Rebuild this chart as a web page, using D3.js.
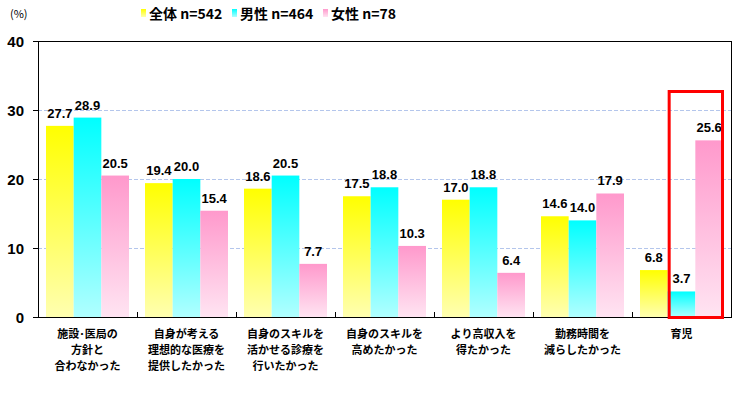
<!DOCTYPE html>
<html>
<head>
<meta charset="utf-8">
<script src="https://cdn.jsdelivr.net/npm/d3@7"></script>
<style>
  body { margin: 0; background: #fff; }
  svg { display: block; }
</style>
</head>
<body>
<svg id="chart" width="739" height="395"></svg>
<script>
// data
const categories = [
  ['施設･医局の', '方針と', '合わなかった'],
  ['自身が考える', '理想的な医療を', '提供したかった'],
  ['自身のスキルを', '活かせる診療を', '行いたかった'],
  ['自身のスキルを', '高めたかった'],
  ['より高収入を', '得たかった'],
  ['勤務時間を', '減らしたかった'],
  ['育児']
];
const seriesNames = ['全体 n=542', '男性 n=464', '女性 n=78'];
const allValues = [27.7, 19.4, 18.6, 17.5, 17.0, 14.6, 6.8];
const maleValues = [28.9, 20.0, 20.5, 18.8, 18.8, 14.0, 3.7];
const femaleValues = [20.5, 15.4, 7.7, 10.3, 6.4, 17.9, 25.6];
const yTicks = [0, 10, 20, 30, 40];
const highlightIndex = 6;

const series = [allValues, maleValues, femaleValues];
const gradStops = [
  ['#ffff00', '#ffffb0'],
  ['#00ffff', '#b0ffff'],
  ['#ff99cc', '#ffe4f2']
];

const svg = d3.select('#chart');
const M = { left: 38, top: 41, right: 731, bottom: 317 };
const font = '"Liberation Sans", Arial, sans-serif';
const jpFont = '"Noto Sans CJK JP", sans-serif';

const defs = svg.append('defs');
gradStops.forEach((s, i) => {
  const g = defs.append('linearGradient').attr('id', 'g' + i)
    .attr('x1', 0).attr('y1', 0).attr('x2', 0).attr('y2', 1);
  g.append('stop').attr('offset', '0%').attr('stop-color', s[0]);
  g.append('stop').attr('offset', '100%').attr('stop-color', s[1]);
});

const x = d3.scaleBand().domain(d3.range(categories.length))
  .range([M.left, M.right]).paddingInner(0).paddingOuter(0);
const inner = 8;
const xs = d3.scaleBand().domain(d3.range(series.length))
  .range([inner, x.bandwidth() - inner]);
const y = d3.scaleLinear().domain([0, 40]).range([M.bottom, M.top]);

// dashed gridlines
svg.append('g').selectAll('line').data(yTicks.filter(t => t > 0 && t < 40)).join('line')
  .attr('x1', M.left).attr('x2', M.right)
  .attr('y1', d => y(d) + 0.5).attr('y2', d => y(d) + 0.5)
  .style('stroke', '#b4c6ec').style('stroke-dasharray', '4,2').style('stroke-width', 1);

// bars
series.forEach((vals, si) => {
  svg.append('g').selectAll('rect').data(vals).join('rect')
    .attr('x', (d, i) => x(i) + xs(si))
    .attr('y', d => y(d))
    .attr('width', xs.bandwidth())
    .attr('height', d => y(0) - y(d))
    .style('fill', `url(#g${si})`);
});

// frame
svg.append('rect')
  .attr('x', M.left + 0.5).attr('y', M.top + 0.5)
  .attr('width', M.right - M.left).attr('height', M.bottom - M.top)
  .style('fill', 'none').style('stroke', '#000').style('stroke-width', 1);

// y axis ticks + labels
const yAxis = svg.append('g');
yTicks.forEach(t => {
  yAxis.append('line')
    .attr('x1', M.left - 5).attr('x2', M.left)
    .attr('y1', y(t) + 0.5).attr('y2', y(t) + 0.5)
    .style('stroke', '#000');
  yAxis.append('text')
    .attr('x', 24).attr('y', y(t))
    .attr('text-anchor', 'end').attr('dominant-baseline', 'central')
    .style('font-family', font).style('font-size', '15px').style('font-weight', 700)
    .text(t);
});

// x ticks between categories
svg.append('g').selectAll('line').data(d3.range(1, categories.length)).join('line')
  .attr('x1', d => x(d) + 0.5).attr('x2', d => x(d) + 0.5)
  .attr('y1', M.bottom).attr('y2', M.bottom - 5)
  .style('stroke', '#000');

// value labels
series.forEach((vals, si) => {
  svg.append('g').selectAll('text').data(vals).join('text')
    .attr('x', (d, i) => x(i) + xs(si) + xs.bandwidth() / 2)
    .attr('y', d => y(d) - 8)
    .attr('text-anchor', 'middle')
    .style('font-family', font).style('font-size', '13px').style('font-weight', 700)
    .text(d => d.toFixed(1));
});

// category labels, one text per line
categories.forEach((lines, i) => {
  lines.forEach((l, j) => {
    svg.append('text')
      .attr('x', x(i) + x.bandwidth() / 2).attr('y', 333 + j * 16)
      .attr('text-anchor', 'middle').attr('dominant-baseline', 'central')
      .style('font-family', jpFont).style('font-size', '11px').style('font-weight', 700)
      .text(l);
  });
});

// highlight box
svg.append('rect')
  .attr('x', x(highlightIndex) + xs(1) + 1.5).attr('y', 91.5)
  .attr('width', xs.bandwidth() * 2 - 2).attr('height', M.bottom + 0.5 - 91.5)
  .style('fill', 'none').style('stroke', '#ff0000').style('stroke-width', 3);

// unit label
svg.append('text').attr('x', 10).attr('y', 18)
  .style('font-family', jpFont).style('font-size', '11px')
  .text('(%)');

// legend
const legX = [141, 232, 323];
seriesNames.forEach((n, i) => {
  svg.append('rect').attr('x', legX[i]).attr('y', 9).attr('width', 5).attr('height', 8)
    .style('fill', `url(#g${i})`);
  svg.append('text').attr('x', legX[i] + 8).attr('y', 13)
    .attr('dominant-baseline', 'central')
    .style('font-family', jpFont).style('font-size', '14px').style('font-weight', 700)
    .text(n);
});
</script>
</body>
</html>
